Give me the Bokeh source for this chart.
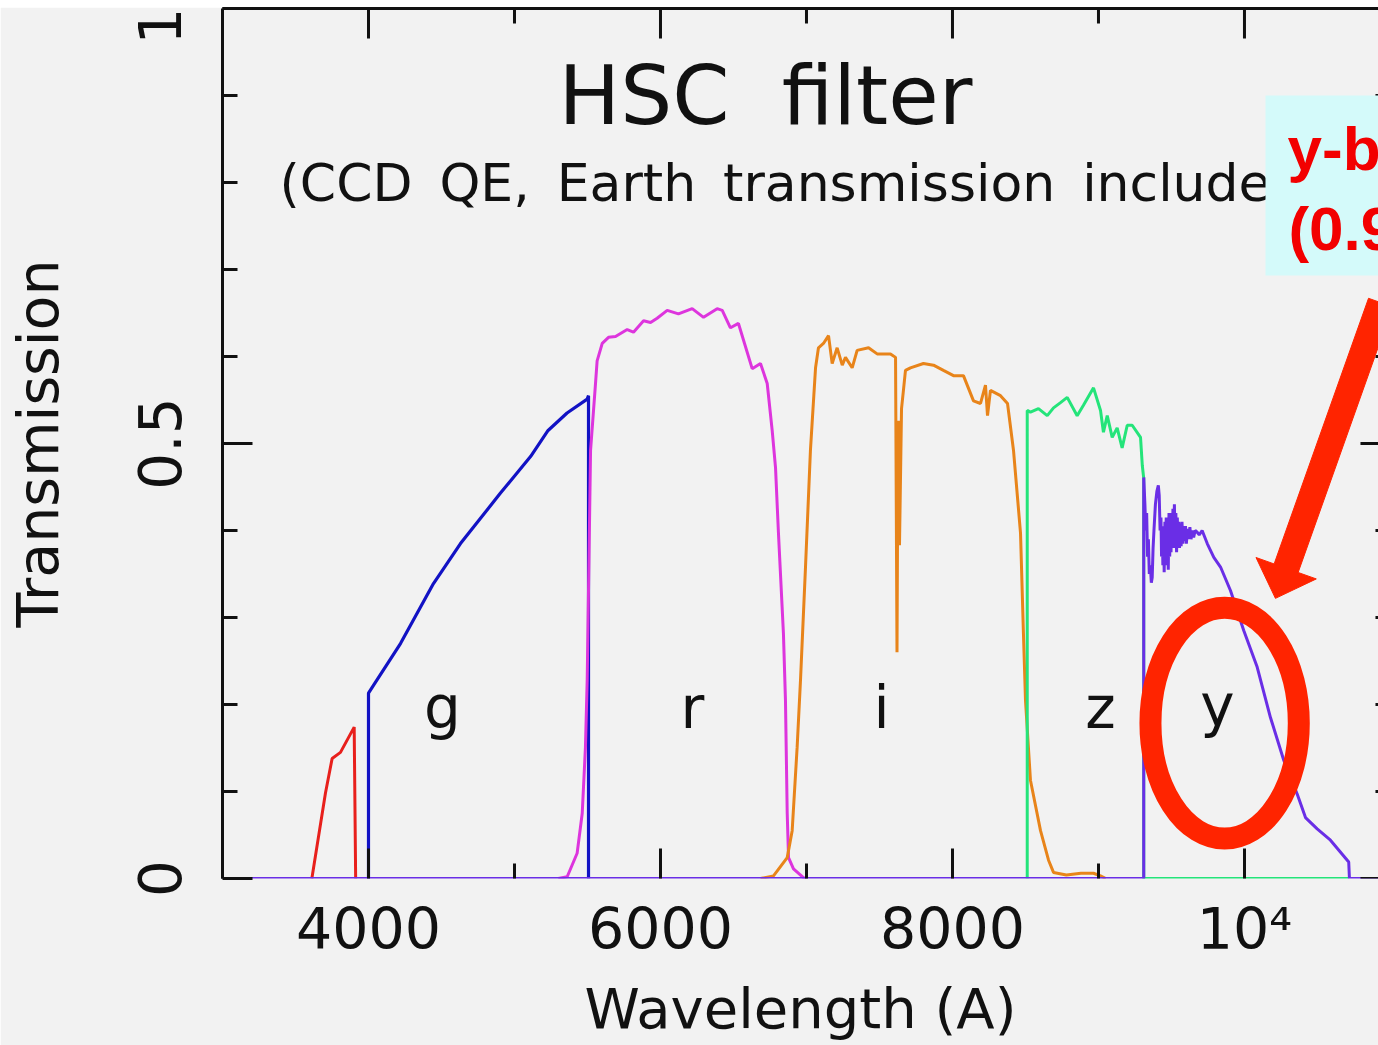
import math
from bokeh.plotting import figure
from bokeh.models import Range1d, LinearAxis, FixedTicker, Spacer
from bokeh.layouts import column
from bokeh.core.properties import value
from bokeh.embed import file_html
from bokeh.resources import INLINE

# ---------------- data ----------------
U_WAVE = [3612, 3705, 3751, 3808, 3902, 3912]
U_TRANS = [0.0, 0.098, 0.138, 0.145, 0.174, 0.0]

G_WAVE = [4000, 4000, 4034, 4219, 4445, 4630, 4904, 5110, 5230, 5360, 5498, 5507, 5507]
G_TRANS = [0.0, 0.213, 0.222, 0.270, 0.339, 0.385, 0.443, 0.485, 0.515, 0.535, 0.551, 0.555, 0.0]

R_WAVE = [5300, 5361, 5429, 5464, 5486, 5498, 5521, 5555, 5566, 5601, 5644, 5692, 5772, 5815,
          5884, 5932, 5977, 6046, 6123, 6217, 6295, 6388, 6423, 6479, 6534, 6628, 6685, 6731,
          6765, 6788, 6808, 6842, 6856, 6868, 6877, 6911, 6979, 7000]
R_TRANS = [0.0, 0.002, 0.029, 0.075, 0.151, 0.228, 0.492, 0.569, 0.595, 0.615, 0.622, 0.623,
           0.631, 0.628, 0.641, 0.639, 0.644, 0.653, 0.649, 0.655, 0.645, 0.655, 0.653, 0.633,
           0.638, 0.586, 0.592, 0.569, 0.515, 0.472, 0.397, 0.282, 0.205, 0.075, 0.024, 0.011,
           0.001, 0.0]

I_WAVE = [6685, 6774, 6868, 6902, 6936, 6959, 6993, 7027, 7062, 7082, 7116, 7151, 7176, 7210,
          7245, 7267, 7313, 7347, 7425, 7484, 7575, 7610, 7620, 7627, 7630, 7634, 7637, 7651,
          7664, 7678, 7712, 7801, 7870, 7938, 8007, 8075, 8144, 8192, 8226, 8240, 8260, 8329,
          8377, 8418, 8466, 8486, 8500, 8534, 8603, 8658, 8692, 8780, 8880, 8966, 9014, 9050]
I_TRANS = [0.0, 0.003, 0.024, 0.055, 0.151, 0.228, 0.357, 0.492, 0.587, 0.610, 0.615, 0.624,
           0.592, 0.610, 0.590, 0.599, 0.587, 0.607, 0.610, 0.603, 0.603, 0.599, 0.260, 0.526,
           0.385, 0.526, 0.383, 0.540, 0.561, 0.584, 0.587, 0.592, 0.590, 0.584, 0.578, 0.578,
           0.549, 0.546, 0.567, 0.532, 0.561, 0.555, 0.546, 0.492, 0.397, 0.282, 0.205, 0.113,
           0.055, 0.021, 0.007, 0.004, 0.006, 0.006, 0.003, 0.0]

Z_WAVE = [8512, 8512, 8534, 8589, 8649, 8692, 8740, 8786, 8854, 8897, 8966, 9014, 9034, 9060,
          9094, 9128, 9162, 9197, 9231, 9288, 9300, 9310, 9310, 10712]
Z_TRANS = [0.0, 0.538, 0.536, 0.540, 0.532, 0.541, 0.547, 0.553, 0.532, 0.544, 0.564, 0.538,
           0.513, 0.532, 0.507, 0.518, 0.495, 0.521, 0.521, 0.507, 0.475, 0.460, 0.0, 0.0]

Y_WAVE = [3000, 9310, 9310, 9318, 9324, 9330, 9336, 9342, 9348, 9355, 9362, 9368, 9374, 9380,
          9390, 9400, 9410, 9416, 9422, 9428, 9432, 9437, 9441, 9446, 9450, 9455, 9460, 9464,
          9469, 9473, 9478, 9483, 9488, 9492, 9497, 9501, 9506, 9510, 9515, 9520, 9525, 9530,
          9535, 9540, 9545, 9550, 9555, 9560, 9566, 9572, 9578, 9584, 9590, 9596, 9602, 9610,
          9618, 9626, 9634, 9642, 9652, 9662, 9676, 9690, 9710, 9745, 9790, 9836, 9904, 9995,
          10087, 10178, 10269, 10361, 10418, 10498, 10589, 10714, 10719, 11000]
Y_TRANS = [0.0, 0.0, 0.461, 0.43, 0.40, 0.42, 0.37, 0.39, 0.35, 0.36, 0.34, 0.346, 0.38, 0.40,
           0.43, 0.445, 0.452, 0.44, 0.40, 0.415, 0.37, 0.405, 0.36, 0.40, 0.352, 0.41, 0.37,
           0.415, 0.36, 0.41, 0.355, 0.42, 0.37, 0.415, 0.375, 0.42, 0.38, 0.425, 0.385, 0.43,
           0.38, 0.42, 0.375, 0.415, 0.38, 0.41, 0.38, 0.408, 0.382, 0.41, 0.385, 0.405, 0.388,
           0.405, 0.385, 0.402, 0.39, 0.404, 0.39, 0.40, 0.392, 0.40, 0.398, 0.395, 0.400,
           0.385, 0.369, 0.358, 0.331, 0.285, 0.243, 0.185, 0.136, 0.097, 0.070, 0.057, 0.044,
           0.019, 0.0, 0.0]

BAND_LABELS = ["g", "r", "i", "z", "y"]
BAND_LABEL_X = [4507, 6219, 7514, 9014, 9815]
BAND_LABEL_Y = [0.196, 0.196, 0.196, 0.196, 0.198]

X_MAJOR = [4000, 6000, 8000, 10000]
X_MINOR = [3000, 5000, 7000, 9000, 11000]
X_LABELS = {4000: "4000", 6000: "6000", 8000: "8000", 10000: "10\u2074"}
Y_MAJOR = [0, 0.5, 1]
Y_MINOR = [0.1, 0.2, 0.3, 0.4, 0.6, 0.7, 0.8, 0.9]
Y_LABELS = {0: "0", 0.5: "0.5", 1: "1"}

TITLE = "HSC\u00a0\u00a0filter"
SUBTITLE = "(CCD\u00a0\u2009QE,\u00a0\u2009Earth\u00a0\u2009transmission\u00a0\u2009included)"
NOTE_LINES = ["y-b", "(0.9"]

# ---------------- style ----------------
BG = "#f2f2f2"
FONT = "DejaVu Sans"
INK = "#111111"
X0, X1 = 3000, 10918
FRAME_W, FRAME_H = 1156, 870
MAJOR_LEN, MINOR_LEN = 30, 15

p = figure(width=1378, height=1038, x_range=Range1d(X0, X1), y_range=Range1d(0, 1),
           output_backend="svg", toolbar_location=None,
           min_border_left=222, min_border_right=0, min_border_top=1, min_border_bottom=167,
           background_fill_color=BG, border_fill_color=BG, outline_line_color=None)
p.xgrid.visible = False
p.ygrid.visible = False

def style_axis(ax, major, minor):
    ax.ticker = FixedTicker(ticks=major, minor_ticks=minor)
    ax.axis_line_width = 3
    ax.axis_line_color = INK
    ax.major_tick_line_width = 3
    ax.minor_tick_line_width = 3
    ax.major_tick_line_color = INK
    ax.minor_tick_line_color = INK
    ax.major_tick_in = MAJOR_LEN
    ax.major_tick_out = 0
    ax.minor_tick_in = MINOR_LEN
    ax.minor_tick_out = 0
    ax.major_label_text_font = FONT
    ax.major_label_text_color = INK
    ax.axis_label_text_font = FONT
    ax.axis_label_text_color = INK
    ax.axis_label_text_font_style = "normal"

xa = p.xaxis[0]
style_axis(xa, X_MAJOR, X_MINOR)
xa.axis_line_color = None
xa.major_label_overrides = X_LABELS
xa.major_label_text_font_size = "57px"
xa.major_label_standoff = 17
xa.axis_label = "Wavelength (A)"
xa.axis_label_text_font_size = "56px"
xa.axis_label_standoff = 11

ya = p.yaxis[0]
style_axis(ya, Y_MAJOR, Y_MINOR)
ya.major_label_overrides = Y_LABELS
ya.major_label_orientation = "vertical"
ya.major_label_text_font_size = "58px"
ya.major_label_standoff = 42
ya.axis_label = "Transmission"
ya.axis_label_text_font_size = "57px"
ya.axis_label_standoff = 64

# top frame line (ticks drawn separately below)
top = LinearAxis(ticker=FixedTicker(ticks=[], minor_ticks=[]))
top.axis_line_width = 3
top.axis_line_color = INK
top.major_tick_out = 0
top.major_tick_in = 0
top.major_label_standoff = 0
p.add_layout(top, "above")

# curves
p.line(U_WAVE, U_TRANS, line_color="#e8201c", line_width=3)
p.line(G_WAVE, G_TRANS, line_color="#1212c4", line_width=3.2)
p.line(R_WAVE, R_TRANS, line_color="#dd35dd", line_width=3)
p.line(I_WAVE, I_TRANS, line_color="#e8841a", line_width=3)
p.line(Z_WAVE, Z_TRANS, line_color="#24e47a", line_width=3)
p.line(Y_WAVE, Y_TRANS, line_color="#6a2ee6", line_width=3)

# top-edge ticks (pointing inward)
top_ticks = X_MAJOR + X_MINOR
top_len = [MAJOR_LEN if t in X_MAJOR else MINOR_LEN for t in top_ticks]
p.segment(x0=top_ticks, y0=[1 - L / FRAME_H for L in top_len], x1=top_ticks,
          y1=[1.0] * len(top_ticks), line_color=INK, line_width=3)

# right-edge ticks (frame edge lies just beyond the visible area)
XR = 11000
right_ticks = Y_MAJOR + Y_MINOR
right_len = [MAJOR_LEN if t in Y_MAJOR else MINOR_LEN for t in right_ticks]
p.segment(x0=[XR - L * (X1 - X0) / FRAME_W for L in right_len], y0=right_ticks,
          x1=[XR] * len(right_ticks), y1=right_ticks, line_color=INK, line_width=3)

# band labels
p.text(x=BAND_LABEL_X, y=BAND_LABEL_Y, text=BAND_LABELS, text_font=value(FONT),
       text_font_size="58px", text_color=INK, text_align="center", text_baseline="alphabetic")

# title texts
p.text(x=[6719], y=[0.900], text=[TITLE], text_font=value(FONT), text_font_size="82px",
       text_color=INK, text_align="center", text_baseline="alphabetic")
p.text(x=[3391], y=[0.7996], text=[SUBTITLE], text_font=value(FONT), text_font_size="52px",
       text_color=INK, text_align="left", text_baseline="alphabetic")

# annotation box
p.quad(left=[10144], right=[11000], bottom=[0.693], top=[0.900],
       fill_color="#d4fafa", line_color=None)
p.text(x=[10295, 10301], y=[0.8393, 0.7474], text=NOTE_LINES,
       text_font=value("Liberation Sans"), text_font_style="bold", text_font_size="62px",
       text_color="#f20000", text_align="left", text_baseline="alphabetic")

# arrow (computed in pixel space, converted to data)
SX = FRAME_W / (X1 - X0)
SY = FRAME_H / 1.0
TAIL = (10932, 0.662)
TIP = (10212, 0.322)
SHAFT_W, HEAD_W, HEAD_L = 25.5, 64, 32
tx, ty = (TAIL[0] - X0) * SX, TAIL[1] * SY
hx, hy = (TIP[0] - X0) * SX, TIP[1] * SY
dx, dy = hx - tx, hy - ty
n = math.hypot(dx, dy)
dx, dy = dx / n, dy / n
nx, ny = -dy, dx
bx, by = hx - dx * HEAD_L, hy - dy * HEAD_L
pts = [
    (tx + nx * SHAFT_W / 2, ty + ny * SHAFT_W / 2),
    (bx + nx * SHAFT_W / 2, by + ny * SHAFT_W / 2),
    (bx + nx * HEAD_W / 2, by + ny * HEAD_W / 2),
    (hx, hy),
    (bx - nx * HEAD_W / 2, by - ny * HEAD_W / 2),
    (bx - nx * SHAFT_W / 2, by - ny * SHAFT_W / 2),
    (tx - nx * SHAFT_W / 2, ty - ny * SHAFT_W / 2),
]
p.patch([X0 + px / SX for px, _ in pts], [py / SY for _, py in pts],
        fill_color="#ff2400", line_color="#ff2400", line_width=1)

# ellipse
p.ellipse(x=[9864], y=[0.1785], width=[1016], height=[0.2653], fill_color=None,
          line_color="#ff2400", line_width=22)

layout = column(Spacer(width=1378, height=7), p)

open("out.html", "w").write(file_html(layout, INLINE))
